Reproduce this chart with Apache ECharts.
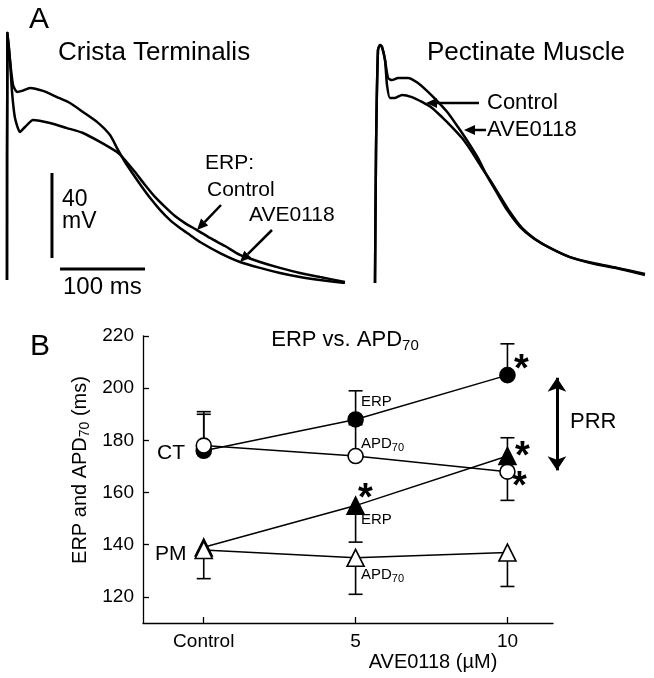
<!DOCTYPE html>
<html><head><meta charset="utf-8">
<script src="https://cdn.jsdelivr.net/npm/echarts@6/dist/echarts.min.js"></script>
<style>html,body{margin:0;padding:0;background:#fff}#c{width:654px;height:678px}</style>
</head><body><div id="c"></div>
<script>
// ---------- Panel A: action potentials, [time ms, voltage mV] ----------
const ctControl = [[0,-78.6],[0.5,37.6],[3.5,24.9],[5.9,9.9],[9.4,-2.4],[15.3,-8.9],[21.2,-6.6],[30.6,-3.3],[50.6,-4.7],[70.6,-7.1],[89.4,-9.4],[109.4,-13.6],[129.4,-18.4],[138.8,-22.1],[150.6,-27.8],[162.4,-33.9],[174.1,-39.5],[185.9,-44.2],[197.6,-48.5],[209.4,-51.8],[223.5,-55.1],[238.8,-58.8],[256.5,-62.6],[274.1,-66.8],[297.6,-70.1],[321.2,-72.9],[344.7,-75.3],[368.2,-77.2],[397.6,-79.5]];
const ctAVE = [[0,-78.6],[0.5,37.6],[3.5,24.9],[7.1,13.2],[11.8,9.9],[17.6,10.4],[27.1,11.8],[42.4,10.4],[58.8,7.5],[74.1,4.7],[89.4,0.5],[105.9,-4.2],[121.2,-10.4],[130.6,-17.4],[138.8,-23.1],[148.2,-28.7],[158.8,-34.8],[169.4,-40.5],[180,-45.6],[191.8,-50.4],[203.5,-54.1],[215.3,-57.4],[227.1,-60.7],[250.6,-65.9],[274.1,-70.1],[297.6,-72.9],[321.2,-75.3],[344.7,-77.2],[368.2,-78.6],[397.6,-80]];
const pmControl = [[0,-80],[1.2,-17.4],[3.5,29.6],[5.9,32],[8.2,31.1],[11.8,24.9],[14.1,13.2],[17.6,7.1],[23.5,7.1],[31.8,8.5],[43.5,7.5],[55.3,5.2],[67.1,2.4],[78.8,-1.9],[90.6,-6.6],[102.4,-11.8],[114.1,-18.4],[125.9,-25.9],[135.3,-31.5],[147.1,-39.1],[158.8,-46.6],[172.9,-54.1],[188.2,-59.3],[208.2,-64],[231.8,-68.2],[258.8,-71.1],[288.2,-73.4],[317.6,-76.2]];
const pmAVE = [[0,-80],[1.2,-17.4],[3.5,29.6],[5.9,32],[8.2,31.1],[11.8,24.9],[15.3,16.5],[20,15.5],[27.1,16.5],[38.8,16.5],[50.6,14.1],[62.4,9.9],[74.1,5.2],[85.9,0],[97.6,-6.6],[109.4,-13.6],[121.2,-21.2],[131.8,-29.6],[143.5,-37.6],[155.3,-45.6],[170.6,-53.6],[185.9,-58.8],[205.9,-63.5],[229.4,-67.8],[256.5,-70.6],[284.7,-72.9],[317.6,-75.8]];
const scaleBarMV = [[52.9,-68.2],[52.9,-28.2]];   // 40 mV
const scaleBarMS = [[62.4,-73.4],[162.4,-73.4]];  // 100 ms

// ---------- Panel B ----------
const doses = [0, 5, 10];
const doseLabels = ['Control', '5', '10'];
const yTicks = [120, 140, 160, 180, 200, 220];
const ctERP = [176, 188, 205];
const ctAPD = [178, 174, 168];
const pmERP = [139, 155, 174];
const pmAPD = [138, 135, 137];
// error bars: [dose, mean, bound]
const ctERPerr = [[0,176,190],[5,188,199],[10,205,217]];
const ctAPDerr = [[0,178,191],[5,174,186],[10,168,157]];
const pmERPerr = [[5,155,141],[10,174,181]];
const pmAPDerr = [[0,138,127],[5,135,121],[10,137,124]];
const prrX = 11.63;
const prrRange = [168.5, 204];

const F = 'Liberation Sans, Arial, sans-serif';
const chart = echarts.init(document.getElementById('c'), null, {renderer: 'canvas'});

function pairs(vals) { return doses.map((d, i) => [d, vals[i]]); }
function trace(data, xi) {
  return {type: 'line', xAxisIndex: xi, yAxisIndex: xi, data: data, symbol: 'none', smooth: 0.2,
    lineStyle: {color: '#000', width: 2.5}, silent: true};
}
function errRender(params, api) {
  const x = api.value(0), m = api.value(1), b = api.value(2);
  const p0 = api.coord([x, m]), p1 = api.coord([x, b]);
  const st = {stroke: '#000', lineWidth: 1.6};
  return {type: 'group', children: [
    {type: 'line', shape: {x1: p0[0], y1: p0[1], x2: p1[0], y2: p1[1]}, style: st},
    {type: 'line', shape: {x1: p1[0] - 7, y1: p1[1], x2: p1[0] + 7, y2: p1[1]}, style: st}
  ]};
}
function errSeries(data) {
  return {type: 'custom', xAxisIndex: 2, yAxisIndex: 2, data: data, renderItem: errRender,
    encode: {x: 0, y: [1, 2]}, z: 1, clip: false, silent: true};
}
function connSeries(vals) {
  return {type: 'line', xAxisIndex: 2, yAxisIndex: 2, data: pairs(vals), symbol: 'none',
    lineStyle: {color: '#000', width: 1.5}, z: 2, silent: true};
}
function markSeries(vals, sym, filled, size) {
  return {type: 'scatter', xAxisIndex: 2, yAxisIndex: 2, data: pairs(vals), symbol: sym, symbolSize: size,
    itemStyle: {color: filled ? '#000' : '#fff', borderColor: '#000', borderWidth: 1.6, opacity: 1}, z: 3, silent: true};
}
function txt(x, y, text, size, align, extra) {
  return {type: 'text', x: x, y: y, style: Object.assign({text: text, fontSize: size, fontFamily: F,
    fill: '#000', align: align || 'left', verticalAlign: 'middle'}, extra || {})};
}
function arrow(x1, y1, x2, y2, w) {
  const dx = x2 - x1, dy = y2 - y1, L = Math.sqrt(dx*dx + dy*dy), ux = dx / L, uy = dy / L;
  const hl = 11, hw = 5;
  const bx = x2 - ux * hl, by = y2 - uy * hl;
  return [
    {type: 'line', shape: {x1: x1, y1: y1, x2: bx, y2: by}, style: {stroke: '#000', lineWidth: w || 2.5}},
    {type: 'polygon', shape: {points: [[x2, y2], [bx - uy * hw, by + ux * hw], [bx + uy * hw, by - ux * hw]]}, style: {fill: '#000'}}
  ];
}
const subRich = {
  b: {fontSize: 15, fontFamily: F, fill: '#000'},
  s: {fontSize: 11, fontFamily: F, fill: '#000', padding: [8, 0, 0, 0]}
};
const titleRich = {
  b: {fontSize: 20, fontFamily: F, fill: '#000'},
  s: {fontSize: 14, fontFamily: F, fill: '#000', padding: [10, 0, 0, 0]}
};
const headRich = {
  b: {fontSize: 22, fontFamily: F, fill: '#000'},
  s: {fontSize: 15, fontFamily: F, fill: '#000', padding: [11, 0, 0, 0]}
};
const star = (x, y) => txt(x, y, '*', 38, 'left', {fontWeight: 'bold'});

const graphics = [
  txt(29, 20, 'A', 30),
  txt(58, 53, 'Crista Terminalis', 26),
  txt(427, 53, 'Pectinate Muscle', 26),
  txt(62, 200, '40', 23),
  txt(62, 222, 'mV', 23),
  txt(63, 287, '100 ms', 24),
  txt(205, 163, 'ERP:', 21),
  txt(207, 190, 'Control', 21),
  txt(249, 215, 'AVE0118', 21),
  txt(487, 103, 'Control', 22),
  txt(487, 130, 'AVE0118', 22),
  ...arrow(221, 205, 197, 230),
  ...arrow(272, 230, 240, 262),
  ...arrow(479, 103, 426, 103),
  ...arrow(486, 130, 464, 130),
  txt(30, 347, 'B', 30),
  {type: 'text', x: 345, y: 340, style: {text: '{b|ERP vs. APD}{s|70}', rich: headRich, align: 'center', verticalAlign: 'middle'}},
  {type: 'text', x: 80, y: 470, rotation: Math.PI / 2, style: {text: '{b|ERP and APD}{s|70}{b| (ms)}', rich: titleRich, align: 'center', verticalAlign: 'middle'}},
  txt(433, 662, 'AVE0118 (\u00b5M)', 20, 'center'),
  txt(157, 453, 'CT', 21),
  txt(155, 554, 'PM', 21),
  txt(361, 402, 'ERP', 15),
  {type: 'text', x: 361, y: 444, style: {text: '{b|APD}{s|70}', rich: subRich, align: 'left', verticalAlign: 'middle'}},
  txt(361, 520, 'ERP', 15),
  {type: 'text', x: 361, y: 575, style: {text: '{b|APD}{s|70}', rich: subRich, align: 'left', verticalAlign: 'middle'}},
  txt(570, 422, 'PRR', 22),
  star(514, 371), star(515, 458), star(512, 488), star(358, 500)
];

const hidden = {show: false};
const option = {
  backgroundColor: '#fff',
  animation: false,
  grid: [
    {left: 7, top: 28, width: 340, height: 255},
    {left: 375, top: 28, width: 272, height: 255},
    {left: 143, top: 336, width: 410, height: 287}
  ],
  xAxis: [
    {gridIndex: 0, type: 'value', min: 0, max: 400, show: false},
    {gridIndex: 1, type: 'value', min: 0, max: 320, show: false},
    {gridIndex: 2, type: 'value', min: -2, max: 11.5,
      axisLine: {show: true, onZero: false, lineStyle: {color: '#000', width: 1.3}},
      axisTick: {show: true, inside: true, length: 6, customValues: doses, lineStyle: {color: '#000', width: 1.3}},
      axisLabel: {show: true, customValues: doses, formatter: v => doseLabels[doses.indexOf(v)], color: '#000', fontSize: 19, fontFamily: F, margin: 9},
      splitLine: hidden}
  ],
  yAxis: [
    {gridIndex: 0, type: 'value', min: -80, max: 40, show: false},
    {gridIndex: 1, type: 'value', min: -80, max: 40, show: false},
    {gridIndex: 2, type: 'value', min: 110, max: 220,
      axisLine: {show: true, onZero: false, lineStyle: {color: '#000', width: 1.3}},
      axisTick: {show: true, inside: true, length: 6, customValues: yTicks, lineStyle: {color: '#000', width: 1.3}},
      axisLabel: {show: true, customValues: yTicks, color: '#000', fontSize: 19, fontFamily: F, margin: 9},
      splitLine: hidden}
  ],
  series: [
    trace(ctControl, 0), trace(ctAVE, 0), trace(pmControl, 1), trace(pmAVE, 1),
    {type: 'line', xAxisIndex: 0, yAxisIndex: 0, data: scaleBarMV, symbol: 'none', lineStyle: {color: '#000', width: 3}},
    {type: 'line', xAxisIndex: 0, yAxisIndex: 0, data: scaleBarMS, symbol: 'none', lineStyle: {color: '#000', width: 3}},
    errSeries(ctERPerr), errSeries(ctAPDerr), errSeries(pmERPerr), errSeries(pmAPDerr),
    connSeries(ctERP), connSeries(ctAPD), connSeries(pmERP), connSeries(pmAPD),
    markSeries(ctERP, 'circle', true, 15), markSeries(ctAPD, 'circle', false, 15),
    markSeries(pmERP, 'triangle', true, 17), markSeries(pmAPD, 'triangle', false, 17),
    {type: 'lines', coordinateSystem: 'cartesian2d', xAxisIndex: 2, yAxisIndex: 2, clip: false,
      symbol: ['arrow', 'arrow'], symbolSize: 14, lineStyle: {color: '#000', width: 3, opacity: 1},
      data: [{coords: [[prrX, prrRange[0]], [prrX, prrRange[1]]]}], silent: true}
  ],
  graphic: graphics
};
chart.setOption(option);
</script></body></html>
